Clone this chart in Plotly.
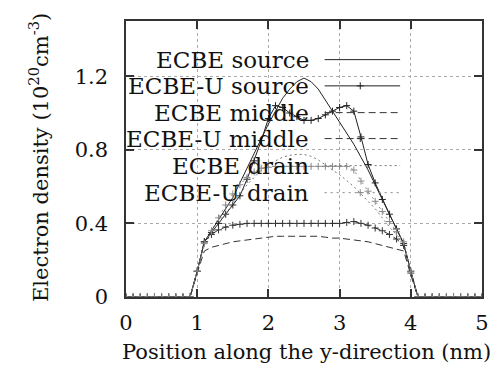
import plotly.graph_objects as go

# ---------------- data ----------------
x_pos = [0.0, 0.1, 0.2, 0.3, 0.4, 0.5, 0.6, 0.7, 0.8, 0.9,
         1.0, 1.1, 1.2, 1.3, 1.4, 1.5, 1.6, 1.7, 1.8, 1.9,
         2.0, 2.1, 2.2, 2.3, 2.4, 2.5, 2.6, 2.7, 2.8, 2.9,
         3.0, 3.1, 3.2, 3.3, 3.4, 3.5, 3.6, 3.7, 3.8, 3.9,
         4.0, 4.1, 4.2, 4.3, 4.4, 4.5, 4.6, 4.7, 4.8, 4.9, 5.0]
Z10 = [0] * 10
Z10b = [0] * 10

ecbe_source = Z10 + [0.14, 0.30, 0.36, 0.42, 0.48, 0.54, 0.62, 0.70, 0.78, 0.86,
                     0.94, 1.01, 1.08, 1.13, 1.17, 1.19, 1.17, 1.13, 1.07, 1.01,
                     0.95, 0.89, 0.83, 0.76, 0.69, 0.61, 0.53, 0.45, 0.37, 0.29,
                     0.14] + Z10b
ecbeu_source = Z10 + [0.14, 0.30, 0.35, 0.40, 0.45, 0.50, 0.55, 0.64, 0.74, 0.85,
                      0.97, 1.04, 1.03, 1.00, 0.98, 0.96, 0.96, 0.97, 0.99, 1.01,
                      1.03, 1.04, 1.01, 0.87, 0.72, 0.62, 0.53, 0.45, 0.37, 0.29,
                      0.14] + Z10b
ecbe_middle = Z10 + [0.13, 0.25, 0.27, 0.28, 0.29, 0.30, 0.305, 0.31, 0.315, 0.32,
                     0.325, 0.33, 0.33, 0.33, 0.33, 0.33, 0.33, 0.33, 0.325, 0.32,
                     0.32, 0.315, 0.31, 0.305, 0.30, 0.29, 0.28, 0.27, 0.26, 0.25,
                     0.12] + Z10b
ecbeu_middle = Z10 + [0.14, 0.30, 0.34, 0.365, 0.38, 0.39, 0.395, 0.40, 0.40, 0.40,
                      0.40, 0.40, 0.40, 0.40, 0.40, 0.40, 0.40, 0.40, 0.40, 0.40,
                      0.40, 0.405, 0.41, 0.40, 0.39, 0.375, 0.36, 0.34, 0.315, 0.28,
                      0.13] + Z10b
ecbe_drain = Z10 + [0.14, 0.29, 0.34, 0.40, 0.45, 0.51, 0.56, 0.61, 0.65, 0.69,
                    0.72, 0.74, 0.76, 0.77, 0.775, 0.775, 0.765, 0.745, 0.715, 0.69,
                    0.665, 0.635, 0.60, 0.56, 0.52, 0.48, 0.43, 0.38, 0.34, 0.29,
                    0.14] + Z10b
ecbeu_drain = Z10 + [0.14, 0.29, 0.36, 0.43, 0.50, 0.56, 0.61, 0.65, 0.68, 0.70,
                     0.705, 0.71, 0.71, 0.71, 0.71, 0.71, 0.71, 0.71, 0.71, 0.71,
                     0.71, 0.71, 0.69, 0.63, 0.575, 0.52, 0.465, 0.41, 0.355, 0.30,
                     0.14] + Z10b

series_names = ["ECBE source", "ECBE-U source", "ECBE middle",
                "ECBE-U middle", "ECBE drain", "ECBE-U drain"]
series_vals = [ecbe_source, ecbeu_source, ecbe_middle,
               ecbeu_middle, ecbe_drain, ecbeu_drain]

x_ticks = [0, 1, 2, 3, 4, 5]
y_ticks = [0, 0.4, 0.8, 1.2]
y_tick_text = ["0", "0.4", "0.8", "1.2"]

# ---------------- styles ----------------
styles = [
    dict(color="#222222", dash="solid", marker=False),
    dict(color="#222222", dash="solid", marker=True),
    dict(color="#333333", dash="7px,4px", marker=False),
    dict(color="#333333", dash="7px,4px", marker=True),
    dict(color="#777777", dash="2px,3px", marker=False),
    dict(color="#888888", dash="2px,4px", marker=True),
]

FONT = "DejaVu Serif"

fig = go.Figure()

for name, vals, st in zip(series_names, series_vals, styles):
    fig.add_trace(go.Scatter(
        x=x_pos, y=vals, name=name,
        mode="lines+markers" if st["marker"] else "lines",
        line=dict(color=st["color"], width=1.0, dash=st["dash"]),
        marker=dict(symbol="cross-thin", size=5,
                    line=dict(width=1.0, color=st["color"])),
        showlegend=False, hoverinfo="skip",
    ))

# ---------- manual key (gnuplot style: text then sample) ----------
key_rows = [0.86, 0.765, 0.668, 0.574, 0.476, 0.378]  # paper y of rows
for name, st, ky in zip(series_names, styles, key_rows):
    fig.add_trace(go.Scatter(
        x=[0.558, 0.658, 0.77], y=[ky, ky, ky],
        xaxis="x2", yaxis="y2",
        mode="lines",
        line=dict(color=st["color"], width=1.0, dash=st["dash"]),
        showlegend=False, hoverinfo="skip",
    ))
    if st["marker"]:
        fig.add_trace(go.Scatter(
            x=[0.658], y=[ky], xaxis="x2", yaxis="y2", mode="markers",
            marker=dict(symbol="cross-thin", size=5,
                        line=dict(width=1.0, color=st["color"])),
            showlegend=False, hoverinfo="skip",
        ))
    fig.add_annotation(x=0.52, y=ky, xref="paper", yref="paper",
                       text=name, showarrow=False, xanchor="right",
                       yanchor="middle",
                       font=dict(family=FONT, size=23, color="#111"))

# white box hiding the grid behind the key
fig.add_shape(type="rect", xref="paper", yref="paper",
              x0=0.025, x1=0.808, y0=0.333, y1=0.913,
              fillcolor="white", line=dict(width=0), layer="between")

# axis titles
fig.add_annotation(x=0.508, y=-0.199, xref="paper", yref="paper",
                   text="Position along the y-direction (nm)",
                   showarrow=False, xanchor="center", yanchor="middle",
                   font=dict(family=FONT, size=21, color="#111"))
fig.add_annotation(x=-0.244, y=0.504, xref="paper", yref="paper",
                   text="Electron density (10<sup>20</sup>cm<sup>-3</sup>)",
                   textangle=-90, showarrow=False, xanchor="center",
                   yanchor="middle",
                   font=dict(family=FONT, size=21, color="#111"))

axis_common = dict(showline=True, linecolor="#333", linewidth=1.5,
                   mirror="ticks", ticks="inside", ticklen=8,
                   tickcolor="#333", tickwidth=1.5,
                   showgrid=True, gridcolor="#aaaaaa", griddash="dot",
                   gridwidth=1, zeroline=False,
                   tickfont=dict(family=FONT, size=21, color="#111"))

fig.update_layout(
    width=501, height=379,
    margin=dict(l=126, r=15, t=21, b=82),
    paper_bgcolor="white", plot_bgcolor="white",
    xaxis=dict(range=[0, 5], tickvals=x_ticks, ticklabelstandoff=6,
               **axis_common),
    yaxis=dict(range=[0, 1.5], tickvals=y_ticks, ticktext=y_tick_text,
               ticklabelstandoff=12, **axis_common),
    xaxis2=dict(range=[0, 1], overlaying="x", visible=False,
                anchor="y2"),
    yaxis2=dict(range=[0, 1], overlaying="y", visible=False,
                anchor="x2"),
)

fig.write_html("out.html")
